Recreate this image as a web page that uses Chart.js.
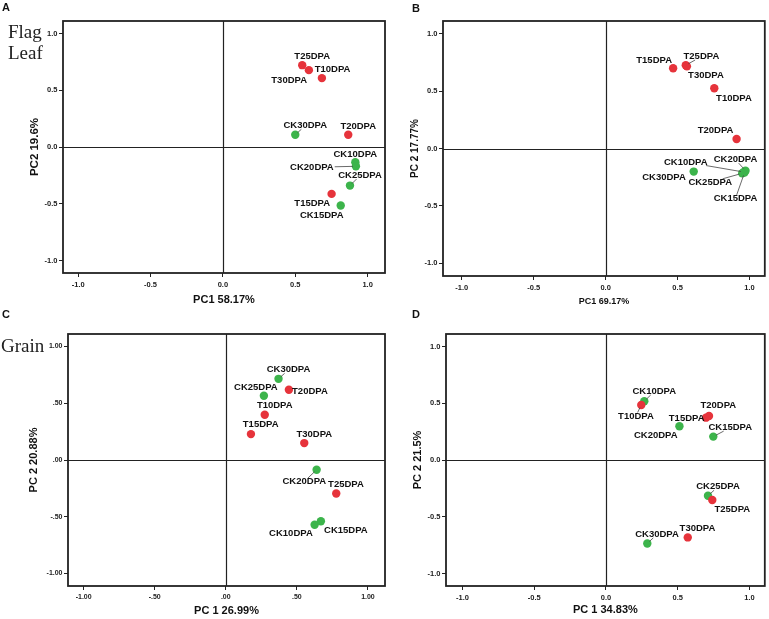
<!DOCTYPE html>
<html>
<head>
<meta charset="utf-8">
<script src="https://cdn.jsdelivr.net/npm/chart.js@4.4.1/dist/chart.umd.min.js"></script>
<style>
  body { margin: 0; background: #fff; width: 769px; height: 619px; position: relative; overflow: hidden; font-family: "Liberation Sans", Arial, sans-serif; }
  .panel { position: absolute; }
  .tag { position: absolute; font-weight: bold; font-size: 11px; line-height: 11px; color: #111; }
  .side { position: absolute; font-family: "Liberation Serif", "Times New Roman", serif; font-size: 19px; line-height: 21px; color: #222; }
</style>
</head>
<body>
<div class="panel" style="left:0;top:0"><canvas id="chartA" width="390" height="310"></canvas></div>
<div class="panel" style="left:390px;top:0"><canvas id="chartB" width="379" height="310"></canvas></div>
<div class="panel" style="left:0;top:310px"><canvas id="chartC" width="390" height="309"></canvas></div>
<div class="panel" style="left:390px;top:310px"><canvas id="chartD" width="379" height="309"></canvas></div>

<div class="tag" style="left:2px;top:2px">A</div>
<div class="tag" style="left:412px;top:3px">B</div>
<div class="tag" style="left:2px;top:309px">C</div>
<div class="tag" style="left:412px;top:309px">D</div>
<div class="side" style="left:8px;top:21px">Flag<br>Leaf</div>
<div class="side" style="left:1px;top:335px">Grain</div>

<script>
// samples, same order in every panel
const sampleNames = ["CK10DPA", "CK15DPA", "CK20DPA", "CK25DPA", "CK30DPA", "T10DPA", "T15DPA", "T20DPA", "T25DPA", "T30DPA"];

// A - flag leaf
const pc1A = [0.915, 0.814, 0.919, 0.878, 0.500, 0.684, 0.751, 0.866, 0.548, 0.594];
const pc2A = [-0.135, -0.516, -0.170, -0.340, 0.108, 0.607, -0.413, 0.108, 0.721, 0.677];
// B
const pc1B = [0.960, 0.965, 0.972, 0.949, 0.612, 0.755, 0.469, 0.910, 0.557, 0.565];
const pc2B = [-0.205, -0.210, -0.193, -0.216, -0.201, 0.524, 0.699, 0.083, 0.725, 0.715];
// C - grain
const pc1C = [0.625, 0.669, 0.639, 0.268, 0.371, 0.274, 0.177, 0.444, 0.777, 0.552];
const pc2C = [-0.571, -0.539, -0.086, 0.566, 0.715, 0.398, 0.228, 0.619, -0.295, 0.149];
// D
const pc1D = [0.267, 0.748, 0.512, 0.711, 0.288, 0.246, 0.697, 0.718, 0.741, 0.570];
const pc2D = [0.518, 0.206, 0.297, -0.315, -0.735, 0.485, 0.373, 0.388, -0.353, -0.682];

const tickLabels1 = ["-1.0", "-0.5", "0.0", "0.5", "1.0"];
const tickLabels2 = ["-1.00", "-.50", ".00", ".50", "1.00"];

const xTitles = ["PC1 58.17%", "PC1 69.17%", "PC 1 26.99%", "PC 1 34.83%"];
const yTitles = ["PC2 19.6%", "PC 2 17.77%", "PC 2 20.88%", "PC 2 21.5%"];

const RED = "#e6333b";
const GREEN = "#3cb44b";
const FONT = '"Liberation Sans", Arial, sans-serif';

// label placement per sample: [dx, dy, leader line]
const placeA = [[0, -7.5, 0], [-19, 10, 0], [-44, 1, 1], [10, -10, 1], [10, -9, 1], [10.7, -9, 0], [-19.4, 9, 0], [10, -8.7, 0], [10, -9, 0], [-19.7, 10, 0]];
const placeB = [[-58, -10, 1], [-9, 25.7, 1], [-10, -11, 1], [-32, 9, 1], [-29.7, 5.3, 0], [19.7, 9.7, 0], [-19, -8, 0], [-21, -8.4, 0], [15.6, -8.7, 1], [19, 9, 0]];
const placeC = [[-23.7, 8.7, 0], [25, 9.3, 0], [-12.3, 11.7, 1], [-8, -8, 0], [10, -9, 1], [10, -9.3, 0], [9.7, -9.3, 0], [21, 1.7, 0], [9.7, -8.7, 0], [10, -9, 0]];
const placeD = [[10, -9.7, 1], [17, -9, 1], [-23.7, 9.3, 0], [10, -9, 1], [9.7, -9, 1], [-5.3, 11, 1], [-19.3, 0.6, 0], [9.3, -10.7, 0], [20, 9, 0], [9.7, -9, 0]];

const pcaDecor = {
  id: "pcaDecor",
  beforeDatasetsDraw(chart) {
    const { ctx, chartArea: a, scales: { x, y } } = chart;
    const x0 = Math.round(x.getPixelForValue(0)) + 0.5;
    const y0 = Math.round(y.getPixelForValue(0)) + 0.5;
    ctx.save();
    ctx.strokeStyle = "#222";
    ctx.lineWidth = 1.2;
    ctx.beginPath();
    ctx.moveTo(x0, a.top); ctx.lineTo(x0, a.bottom);
    ctx.moveTo(a.left, y0); ctx.lineTo(a.right, y0);
    ctx.stroke();
    ctx.lineWidth = 1.8;
    ctx.strokeRect(a.left, a.top, a.right - a.left, a.bottom - a.top);
    ctx.restore();
  },
  afterDatasetsDraw(chart, args, opts) {
    const ctx = chart.ctx;
    const pts = chart.getDatasetMeta(0).data;
    ctx.save();
    ctx.font = "bold 9.5px " + FONT;
    ctx.textAlign = "center";
    ctx.textBaseline = "middle";
    pts.forEach((p, i) => {
      const [dx, dy, leader] = opts.place[i];
      const name = opts.names[i];
      if (leader) {
        // where the line from the dot to the label centre enters the label box
        const hw = ctx.measureText(name).width / 2 + 1, hh = 3.5;
        const tx = dx !== 0 ? 1 - hw / Math.abs(dx) : -Infinity;
        const ty = dy !== 0 ? 1 - hh / Math.abs(dy) : -Infinity;
        const t = Math.max(tx, ty);
        const ex = p.x + dx * t, ey = p.y + dy * t;
        const len = Math.hypot(ex - p.x, ey - p.y);
        if (t > 0 && len > 4) {
          ctx.strokeStyle = "#444";
          ctx.lineWidth = 0.8;
          ctx.beginPath();
          ctx.moveTo(p.x + (ex - p.x) * 3 / len, p.y + (ey - p.y) * 3 / len);
          ctx.lineTo(ex, ey);
          ctx.stroke();
        }
      }
      ctx.fillStyle = "#111";
      ctx.fillText(name, p.x + dx, p.y + dy);
    });
    ctx.restore();
  }
};

function makeChart(id, cfg) {
  const points = cfg.pc1.map((v, i) => ({ x: v, y: cfg.pc2[i] }));
  const tickFmt = (v) => cfg.ticks[Math.round((v + 1) * 2)];
  new Chart(document.getElementById(id), {
    type: "scatter",
    data: {
      datasets: [{
        data: points,
        pointBackgroundColor: sampleNames.map(n => n.startsWith("CK") ? GREEN : RED),
        pointBorderWidth: 0,
        pointRadius: 4.2,
        pointHoverRadius: 4.2
      }]
    },
    options: {
      responsive: false,
      animation: false,
      events: [],
      layout: { padding: { left: 0, top: cfg.top, right: cfg.right, bottom: 0 } },
      plugins: {
        legend: { display: false },
        tooltip: { enabled: false },
        pcaDecor: { names: sampleNames, place: cfg.place }
      },
      scales: {
        x: {
          type: "linear",
          min: cfg.xmin, max: cfg.xmax,
          afterFit: (s) => { s.height = cfg.xh; },
          grid: { drawOnChartArea: false, tickLength: 4, color: "#222" },
          border: { display: false },
          ticks: { stepSize: 0.5, includeBounds: false, padding: 3, color: "#222", maxRotation: 0,
                   font: { family: FONT, size: cfg.tickSize, weight: "bold" }, callback: tickFmt },
          title: { display: true, text: cfg.xTitle, color: "#111",
                   font: { family: FONT, size: cfg.xtSize, weight: "bold" }, padding: { top: 0, bottom: cfg.xtPad } }
        },
        y: {
          type: "linear",
          min: -1.11, max: 1.11,
          afterFit: (s) => { s.width = cfg.yw; },
          grid: { drawOnChartArea: false, tickLength: 4, color: "#222" },
          border: { display: false },
          ticks: { stepSize: 0.5, includeBounds: false, padding: 1.5, color: "#222",
                   font: { family: FONT, size: cfg.tickSize, weight: "bold" }, callback: tickFmt },
          title: { display: true, text: cfg.yTitle, color: "#111",
                   font: { family: FONT, size: cfg.ytSize, weight: "bold" }, padding: { top: cfg.ytPad, bottom: 0 } }
        }
      }
    },
    plugins: [pcaDecor]
  });
}

makeChart("chartA", { pc1: pc1A, pc2: pc2A, place: placeA, ticks: tickLabels1, xTitle: xTitles[0], yTitle: yTitles[0],
  xmin: -1.105, xmax: 1.12, top: 21, right: 5, xh: 37, yw: 63, tickSize: 7.5, xtSize: 11, ytSize: 11.5, xtPad: 3.4, ytPad: 28 });
makeChart("chartB", { pc1: pc1B, pc2: pc2B, place: placeB, ticks: tickLabels1, xTitle: xTitles[1], yTitle: yTitles[1],
  xmin: -1.13, xmax: 1.106, top: 21, right: 3, xh: 34, yw: 53, tickSize: 7.5, xtSize: 9, ytSize: 10, xtPad: 2.9, ytPad: 19.5 });
makeChart("chartC", { pc1: pc1C, pc2: pc2C, place: placeC, ticks: tickLabels2, xTitle: xTitles[2], yTitle: yTitles[2],
  xmin: -1.11, xmax: 1.12, top: 24, right: 5, xh: 33, yw: 68, tickSize: 7, xtSize: 11, ytSize: 11, xtPad: 1.7, ytPad: 27.4 });
makeChart("chartD", { pc1: pc1D, pc2: pc2D, place: placeD, ticks: tickLabels1, xTitle: xTitles[3], yTitle: yTitles[3],
  xmin: -1.115, xmax: 1.107, top: 24, right: 3, xh: 33, yw: 56, tickSize: 7.5, xtSize: 11, ytSize: 11, xtPad: 2.4, ytPad: 20.9 });
</script>
</body>
</html>
